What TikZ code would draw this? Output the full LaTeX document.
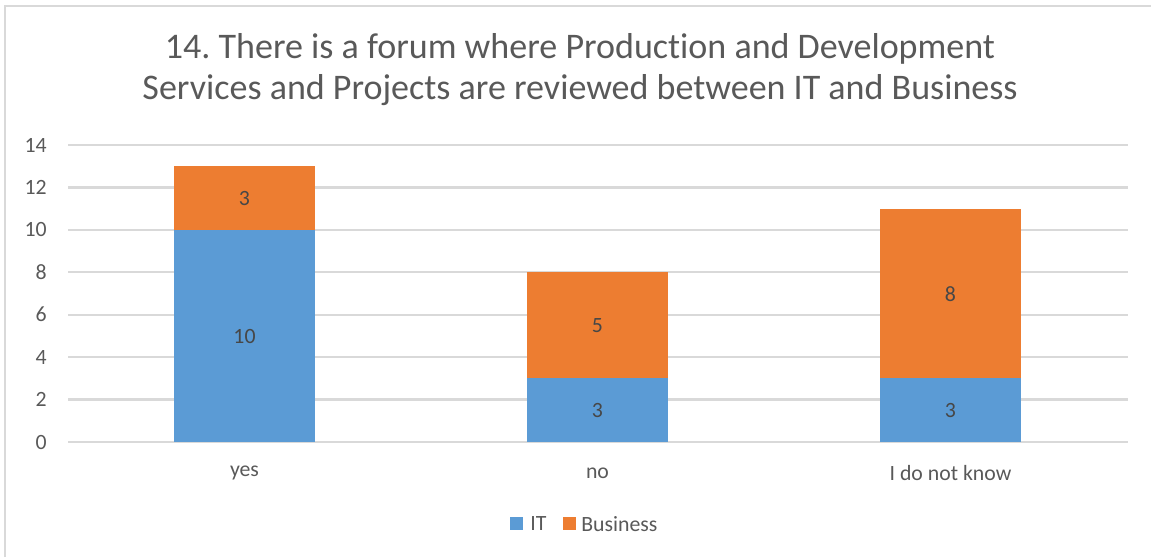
\documentclass[tikz,border=0pt]{standalone}
\usepackage{fontspec}
\setmainfont{Carlito}[Ligatures={NoCommon}]
\usepackage{xcolor}
\definecolor{itBlue}{HTML}{5B9BD5}
\definecolor{busOrange}{HTML}{ED7D31}
\definecolor{txtGray}{HTML}{595959}
\definecolor{gridGray}{HTML}{D9D9D9}
\frenchspacing

\begin{document}
\begin{tikzpicture}[
    x=0.02cm, y=-0.02cm,
    grid/.style={draw=gridGray, line width=1.3pt},
    frame/.style={draw=gridGray, line width=1.1pt},
    tick/.style={anchor=east, text=txtGray, font=\fontsize{12.4}{14}\selectfont, inner sep=0},
    cat/.style={text=txtGray, font=\fontsize{12.4}{14}\selectfont, inner sep=0},
    val/.style={text=txtGray!80!black, font=\fontsize{12.4}{14}\selectfont, inner sep=0},
    ttl/.style={text=txtGray, align=center, font=\fontsize{20.5}{23.3}\selectfont, inner sep=0},
    itbar/.style={fill=itBlue},
    busbar/.style={fill=busOrange},
  ]
  \useasboundingbox (0,0) rectangle (1151,557);
  \draw[frame] (5,557) -- (5,6) -- (1151,6);

  \node[ttl] (title) at (580,70) {14. There is a forum where Production and Development\\Services and Projects are reviewed between IT and Business};

  % gridlines and axis labels
  \draw[grid] (68,442) -- (1128,442);
  \draw[grid] (68,399.6) -- (1128,399.6);
  \draw[grid] (68,357.2) -- (1128,357.2);
  \draw[grid] (68,314.7) -- (1128,314.7);
  \draw[grid] (68,272.3) -- (1128,272.3);
  \draw[grid] (68,229.9) -- (1128,229.9);
  \draw[grid] (68,187.4) -- (1128,187.4);
  \draw[grid] (68,145) -- (1128,145);
  \node[tick] (y0) at (47,442) {0};
  \node[tick] (y2) at (47,399.6) {2};
  \node[tick] (y4) at (47,357.2) {4};
  \node[tick] (y6) at (47,314.7) {6};
  \node[tick] (y8) at (47,272.3) {8};
  \node[tick] (y10) at (47,229.9) {10};
  \node[tick] (y12) at (47,187.4) {12};
  \node[tick] (y14) at (47,145) {14};

  % bars
  \fill[itbar] (174,442) rectangle (315,229.9);
  \fill[busbar] (174,229.9) rectangle (315,166.2);
  \fill[itbar] (527,442) rectangle (668,378.4);
  \fill[busbar] (527,378.4) rectangle (668,272.3);
  \fill[itbar] (880,442) rectangle (1021,378.4);
  \fill[busbar] (880,378.4) rectangle (1021,208.6);

  \node[val] (yesIT) at (244.5,337) {10};
  \node[val] (yesBus) at (244.5,199) {3};
  \node[val] (noIT) at (597.5,411) {3};
  \node[val] (noBus) at (597.5,326) {5};
  \node[val] (idkIT) at (950.5,411) {3};
  \node[val] (idkBus) at (950.5,294) {8};

  \node[cat] (yes) at (244.5,473) {yes};
  \node[cat] (no) at (597.5,473) {no};
  \node[cat] (idk) at (950.5,473) {I do not know};

  % legend
  \fill[itbar] (510,517) rectangle (523,530);
  \node[cat, anchor=west] (legIT) at (530,524) {IT};
  \fill[busbar] (563,517) rectangle (576,530);
  \node[cat, anchor=west] (legBus) at (581,524) {Business};
\end{tikzpicture}
\end{document}
